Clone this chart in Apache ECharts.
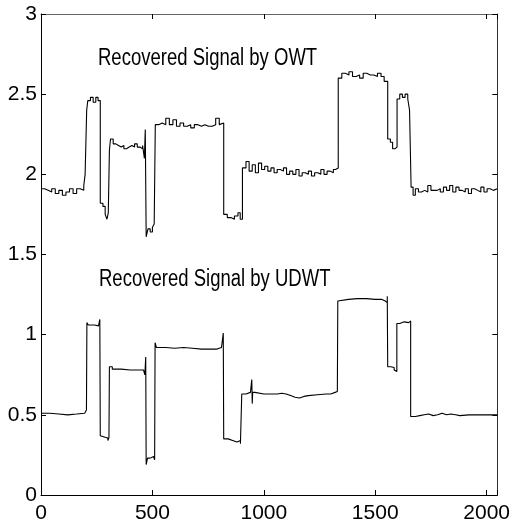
<!DOCTYPE html>
<html>
<head>
<meta charset="utf-8">
<style>
  html, body { margin: 0; padding: 0; background: #fff; }
  #chart { width: 513px; height: 527px; }
</style>
<script src="https://cdn.jsdelivr.net/npm/echarts@6/dist/echarts.min.js"></script>
</head>
<body>
<div id="chart"></div>
<script>
// Sample positions and values of the signal recovered with the orthogonal transform
const owtX = [
  0, 16, 32, 48, 64, 80, 96, 112, 128, 144, 160, 176, 192, 198, 205,
  210, 222, 234, 246, 256,
  266, 278, 288, 296, 302,
  307, 312, 324, 336, 348, 360, 372, 384, 396, 408, 420, 432, 444, 456, 464, 468,
  472, 480, 490, 500, 508,
  513, 528, 544, 560, 576, 592, 608, 624, 640, 656, 672, 688, 704, 720, 736, 752, 768, 784, 800, 808,
  820, 836, 852, 868, 884, 894,
  904, 920, 934, 948, 962, 976, 990, 1004, 1018, 1032, 1046, 1060, 1074, 1088, 1102, 1116, 1130,
  1144, 1158, 1172, 1186, 1200, 1214, 1228, 1242, 1256, 1270, 1284, 1298, 1312, 1322,
  1334, 1350, 1366, 1382, 1398, 1414, 1430, 1446, 1462, 1478, 1494, 1510, 1526, 1540,
  1556, 1568, 1578, 1588,
  1598, 1610, 1622, 1634, 1646, 1654,
  1661, 1670, 1680, 1694, 1708, 1722, 1736, 1750, 1764, 1778, 1792, 1806, 1820, 1834, 1848,
  1862, 1876, 1890, 1904, 1918, 1932, 1946, 1960, 1974, 1988, 2002, 2016, 2030, 2048
];
const owtY = [
  1.91, 1.90, 1.89, 1.91, 1.88, 1.90, 1.87, 1.89, 1.91, 1.88, 1.91, 1.90, 1.93, 2.00, 2.40,
  2.46, 2.48, 2.45, 2.48, 2.46,
  1.82, 1.80, 1.75, 1.72, 1.76,
  2.15, 2.22, 2.19, 2.18, 2.17, 2.18, 2.16, 2.17, 2.18, 2.17, 2.19, 2.17, 2.16, 2.18, 2.10, 2.28,
  1.61, 1.66, 1.64, 1.67, 1.69,
  2.31, 2.32, 2.31, 2.35, 2.31, 2.34, 2.30, 2.32, 2.30, 2.31, 2.29, 2.31, 2.30, 2.31, 2.30, 2.30, 2.31, 2.35, 2.31, 2.32,
  1.75, 1.73, 1.72, 1.74, 1.76, 1.72,
  2.04, 2.08, 2.02, 2.06, 2.01, 2.07, 2.03, 2.05, 2.02, 2.04, 2.01, 2.03, 2.02, 2.04, 2.00, 2.02, 2.00,
  2.03, 1.99, 2.01, 2.00, 2.02, 1.99, 2.01, 2.00, 2.03, 2.00, 2.02, 2.01, 2.03, 2.04,
  2.60, 2.63, 2.62, 2.64, 2.61, 2.62, 2.60, 2.63, 2.62, 2.62, 2.61, 2.63, 2.61, 2.58,
  2.22, 2.20, 2.16, 2.17,
  2.47, 2.50, 2.48, 2.50, 2.47, 2.40,
  1.92, 1.87, 1.91, 1.89, 1.90, 1.89, 1.93, 1.90, 1.90, 1.91, 1.89, 1.92, 1.90, 1.93, 1.89,
  1.92, 1.90, 1.89, 1.91, 1.88, 1.91, 1.90, 1.89, 1.92, 1.89, 1.91, 1.90, 1.91, 1.91
];

// Sample positions and values of the signal recovered with the undecimated transform
const udwtX = [
  0, 40, 80, 120, 160, 196, 204,
  206, 212, 240, 258, 264,
  266, 272, 288, 300, 305,
  307, 320, 360, 400, 440, 460, 466, 470,
  472, 478, 490, 505, 510,
  512, 518, 560, 600, 640, 680, 720, 760, 790, 810, 818,
  820, 840, 860, 880, 895,
  901, 920, 940, 946, 948, 950, 960, 1000, 1040, 1060, 1080, 1100, 1120, 1140, 1160, 1180,
  1200, 1240, 1280, 1300, 1320, 1330,
  1332, 1340, 1380, 1420, 1460, 1500, 1530, 1545, 1554,
  1556, 1570, 1585, 1592,
  1597, 1610, 1630, 1650,
  1659, 1680, 1700, 1720, 1740, 1760, 1780, 1800, 1820, 1840, 1860, 1880, 1920, 1960, 2000, 2048
];
const udwtY = [
  0.51, 0.505, 0.50, 0.505, 0.51, 0.52, 0.53,
  1.075, 1.06, 1.055, 1.06, 1.095,
  0.37, 0.36, 0.355, 0.34, 0.36,
  0.80, 0.785, 0.78, 0.78, 0.78, 0.77, 0.75, 0.86,
  0.19, 0.23, 0.24, 0.25, 0.22,
  0.95, 0.92, 0.915, 0.92, 0.915, 0.91, 0.91, 0.91, 0.92, 0.91, 1.01,
  0.35, 0.34, 0.33, 0.34, 0.32,
  0.63, 0.64, 0.64, 0.72, 0.57, 0.64, 0.63, 0.63, 0.63, 0.635, 0.63, 0.62, 0.61, 0.605, 0.615, 0.62,
  0.625, 0.63, 0.63, 0.64, 0.645, 0.64,
  1.21, 1.22, 1.225, 1.225, 1.22, 1.22, 1.21, 1.20, 1.24,
  0.80, 0.795, 0.78, 0.77,
  1.07, 1.08, 1.075, 1.085,
  0.49, 0.495, 0.50, 0.505, 0.495, 0.50, 0.51, 0.50, 0.505, 0.50, 0.495, 0.50, 0.50, 0.50, 0.50, 0.50
];

const xTickLabels = [0, 500, 1000, 1500, 2000];
const yTickLabels = ['0', '0.5', '1', '1.5', '2', '2.5', '3'];
const captions = ['Recovered Signal by OWT', 'Recovered Signal by UDWT'];

const pairs = (xs, ys) => xs.map((x, i) => [x, ys[i]]);
const sans = "'Liberation Sans', Arial, Helvetica, sans-serif";

const chart = echarts.init(document.getElementById('chart'), null, { renderer: 'canvas' });

const frameAxisX = (pos, showLabel, lineColor) => ({
  type: 'value', position: pos, min: 0, max: 2048, interval: 500,
  axisLine: { show: true, onZero: false, lineStyle: { color: lineColor, width: 1 } },
  axisTick: { show: true, inside: true, length: 5, lineStyle: { color: '#000' } },
  splitLine: { show: false },
  axisLabel: {
    show: showLabel, margin: 8, color: '#000', fontSize: 21, fontFamily: sans,
    formatter: v => (xTickLabels.indexOf(v) >= 0 ? String(v) : '')
  }
});
const frameAxisY = (pos, showLabel, lineColor) => ({
  type: 'value', position: pos, min: 0, max: 3, interval: 0.5,
  axisLine: { show: true, onZero: false, lineStyle: { color: lineColor, width: 1 } },
  axisTick: { show: true, inside: true, length: 5, lineStyle: { color: '#000' } },
  splitLine: { show: false },
  axisLabel: {
    show: showLabel, margin: 4, color: '#000', fontSize: 21, fontFamily: sans,
    formatter: v => yTickLabels[Math.round(v * 2)]
  }
});

// Captions are drawn horizontally condensed, as in a squeezed figure export
const caption = (text, x, y) => ({
  type: 'text', x: x, y: y, scaleX: 0.805, scaleY: 1, silent: true,
  style: { text: text, fill: '#000', font: "23px 'Liberation Sans', Arial, sans-serif",
           textAlign: 'left', textVerticalAlign: 'top' }
});

chart.setOption({
  animation: false,
  backgroundColor: '#fff',
  grid: { left: 41, top: 14, right: 11, bottom: 32, containLabel: false },
  xAxis: [frameAxisX('bottom', true, '#000'), frameAxisX('top', false, '#666')],
  yAxis: [frameAxisY('left', true, '#000'), frameAxisY('right', false, '#333')],
  graphic: [caption(captions[0], 98, 47), caption(captions[1], 99, 268)],
  series: [
    { name: 'OWT', type: 'line', step: 'end', showSymbol: false, symbol: 'none',
      xAxisIndex: 0, yAxisIndex: 0,
      lineStyle: { color: '#000', width: 1.1 }, data: pairs(owtX, owtY) },
    { name: 'UDWT', type: 'line', step: 'end', showSymbol: false, symbol: 'none',
      xAxisIndex: 0, yAxisIndex: 0,
      lineStyle: { color: '#000', width: 1.1 }, data: pairs(udwtX, udwtY) }
  ]
});
</script>
</body>
</html>
